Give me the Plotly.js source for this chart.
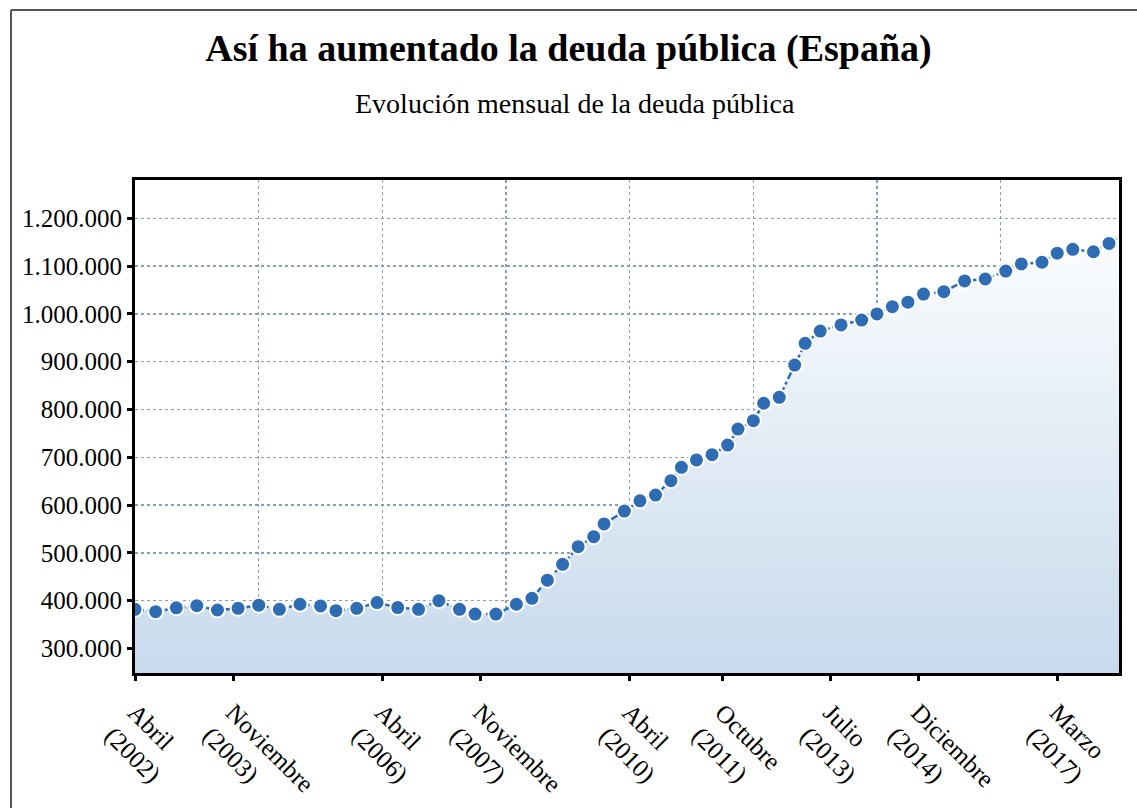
<!DOCTYPE html>
<html>
<head>
<meta charset="utf-8">
<script src="https://cdn.plot.ly/plotly-3.0.1.min.js"></script>
<style>
  html, body { margin: 0; padding: 0; background: #ffffff; }
  #chart { width: 1137px; height: 808px; }
</style>
</head>
<body>
<div id="chart"></div>
<script>
// ---- data ----
const fechas = [
  '2002-04-01','2002-08-01','2002-12-01','2003-04-01','2003-08-01','2003-12-01',
  '2004-04-01','2004-08-01','2004-12-01','2005-04-01','2005-07-01','2005-11-01',
  '2006-03-01','2006-07-01','2006-11-01','2007-03-01','2007-07-01','2007-10-01',
  '2008-02-01','2008-06-01','2008-09-01','2008-12-01','2009-03-01','2009-06-01',
  '2009-09-01','2009-11-01','2010-03-01','2010-06-01','2010-09-01','2010-12-01',
  '2011-02-01','2011-05-01','2011-08-01','2011-11-01','2012-01-01','2012-04-01',
  '2012-06-01','2012-09-01','2012-12-01','2013-02-01','2013-05-01','2013-09-01',
  '2014-01-01','2014-04-01','2014-07-01','2014-10-01','2015-01-01','2015-05-01',
  '2015-09-01','2016-01-01','2016-05-01','2016-08-01','2016-12-01','2017-03-01',
  '2017-06-01','2017-10-01','2018-01-01','2018-05-01'
];
const deuda = [
  382000, 377000, 385000, 389500, 380500, 384000,
  390500, 382000, 392500, 389000, 379000, 384000,
  396000, 385500, 382000, 400000, 382000, 372000,
  372000, 392500, 405000, 443000, 476000, 513000,
  534000, 560500, 587500, 609000, 621000, 651000,
  679000, 694500, 705500, 725500, 759000, 776500,
  813000, 825500, 893000, 938500, 964000, 977000,
  987000, 1000000, 1015000, 1024500, 1041500, 1046500,
  1069000, 1073000, 1089500, 1104500, 1108000, 1127000,
  1135000, 1130000, 1147500, 1175000
];
const tickFechas = ['2002-04-01','2003-11-01','2006-04-01','2007-11-01','2010-04-01',
                    '2011-10-01','2013-07-01','2014-12-01','2017-03-01'];
const tickTextos = ['Abril<br>(2002)','Noviembre<br>(2003)','Abril<br>(2006)','Noviembre<br>(2007)',
                    'Abril<br>(2010)','Octubre<br>(2011)','Julio<br>(2013)','Diciembre<br>(2014)',
                    'Marzo<br>(2017)'];
const titulo = 'Así ha aumentado la deuda pública (España)';
const subtitulo = 'Evolución mensual de la deuda pública';

const W = 1137, H = 808;
const M = { l: 135, r: 18, t: 180, b: 135 };
const pw = W - M.l - M.r, ph = H - M.t - M.b;
const px2x = px => (px - M.l) / pw;
const py2y = py => (H - M.b - py) / ph;

const serif = 'Liberation Serif, Times New Roman, serif';
const azul = '#2E6DB4';
const gridCol = '#86a2b8';

const trace = {
  type: 'scatter',
  mode: 'lines+markers',
  x: fechas,
  y: deuda,
  line: { color: azul, width: 2.5, dash: 'dashdot' },
  marker: { color: azul, size: 15, line: { color: '#ffffff', width: 2 } },
  fill: 'tozeroy',
  fillgradient: {
    type: 'vertical',
    start: 248700,
    stop: 1230000,
    colorscale: [[0, '#c7daec'], [1, '#ffffff']]
  },
  cliponaxis: true,
  hoverinfo: 'x+y',
  showlegend: false
};

const layout = {
  width: W, height: H,
  margin: M,
  paper_bgcolor: '#ffffff',
  plot_bgcolor: '#ffffff',
  separators: ',.',
  font: { family: serif, color: '#000000', size: 25 },
  title: {
    text: '<b>' + titulo + '</b>',
    font: { family: serif, size: 38, color: '#000000' },
    x: 0.5, xref: 'container', xanchor: 'center',
    y: 1 - 48 / H, yref: 'container', yanchor: 'middle'
  },
  annotations: [{
    text: subtitulo, showarrow: false,
    xref: 'paper', yref: 'paper',
    x: px2x(575), y: py2y(103), xanchor: 'center', yanchor: 'middle',
    font: { family: serif, size: 28, color: '#000000' }
  }],
  xaxis: {
    type: 'date',
    range: ['2002-04-01', '2018-03-01'],
    tickmode: 'array',
    tickvals: tickFechas,
    ticktext: tickTextos,
    tickangle: 45,
    ticks: 'outside', ticklen: 5, tickwidth: 3, tickcolor: '#000000',
    ticklabelstandoff: 7,
    showgrid: false,
    minor: {
      tick0: '2002-04-01', dtick: 'M24',
      showgrid: true, gridcolor: gridCol, gridwidth: 1.5, griddash: '3px,3px',
      ticks: ''
    },
    showline: true, linecolor: '#000000', linewidth: 3, mirror: true,
    zeroline: false,
    tickfont: { family: serif, size: 25, color: '#000000' },
    fixedrange: true
  },
  yaxis: {
    range: [248700, 1280100],
    tickmode: 'linear', tick0: 300000, dtick: 100000,
    tickformat: ',d',
    ticks: 'outside', ticklen: 5, tickwidth: 3, tickcolor: '#000000',
    showgrid: true, gridcolor: gridCol, gridwidth: 1.5, griddash: '3px,3px',
    showline: true, linecolor: '#000000', linewidth: 3, mirror: true,
    zeroline: false,
    tickfont: { family: serif, size: 25, color: '#000000' },
    fixedrange: true
  },
  shapes: [
    { type: 'line', xref: 'paper', yref: 'paper', layer: 'above',
      x0: px2x(11), x1: px2x(1140), y0: py2y(10), y1: py2y(10),
      line: { color: '#555555', width: 2 } },
    { type: 'line', xref: 'paper', yref: 'paper', layer: 'above',
      x0: px2x(11), x1: px2x(11), y0: py2y(10), y1: py2y(810),
      line: { color: '#555555', width: 2 } }
  ]
};

Plotly.newPlot('chart', [trace], layout, { staticPlot: true, displayModeBar: false });
</script>
</body>
</html>
